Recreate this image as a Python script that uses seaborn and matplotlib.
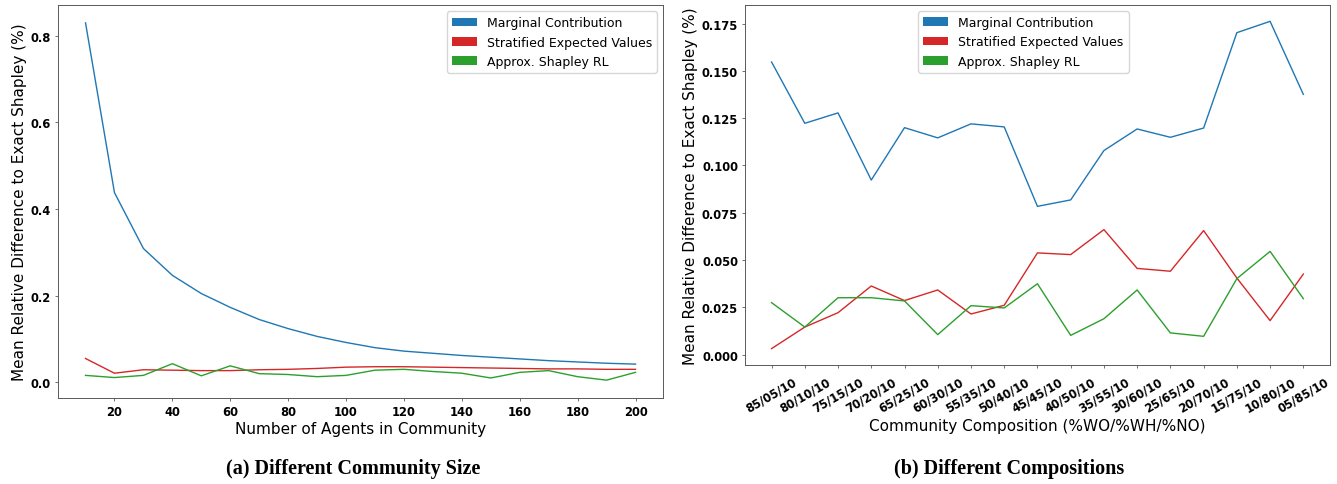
import matplotlib
matplotlib.use('Agg')
import matplotlib.pyplot as plt
from matplotlib.patches import Patch
import seaborn as sns
import pandas as pd

# --- Data: (a) different community size ---
agents = [10, 20, 30, 40, 50, 60, 70, 80, 90, 100,
          110, 120, 130, 140, 150, 160, 170, 180, 190, 200]
size_marginal = [0.830, 0.438, 0.309, 0.247, 0.205, 0.173, 0.145, 0.124, 0.106, 0.092,
                 0.080, 0.072, 0.067, 0.062, 0.058, 0.054, 0.050, 0.047, 0.044, 0.042]
size_stratified = [0.055, 0.021, 0.029, 0.028, 0.027, 0.027, 0.029, 0.030, 0.032, 0.035,
                   0.036, 0.036, 0.035, 0.034, 0.033, 0.032, 0.031, 0.031, 0.030, 0.030]
size_approx = [0.016, 0.011, 0.016, 0.043, 0.015, 0.038, 0.020, 0.018, 0.013, 0.016,
               0.028, 0.030, 0.025, 0.021, 0.010, 0.023, 0.027, 0.013, 0.005, 0.023]

# --- Data: (b) different compositions ---
compositions = ['85/05/10', '80/10/10', '75/15/10', '70/20/10', '65/25/10', '60/30/10',
                '55/35/10', '50/40/10', '45/45/10', '40/50/10', '35/55/10', '30/60/10',
                '25/65/10', '20/70/10', '15/75/10', '10/80/10', '05/85/10']
comp_marginal = [0.1547, 0.1223, 0.1278, 0.0923, 0.1200, 0.1146, 0.1220, 0.1204, 0.0784,
                 0.0818, 0.1079, 0.1193, 0.1149, 0.1198, 0.1702, 0.1762, 0.1376]
comp_stratified = [0.0032, 0.0146, 0.0222, 0.0363, 0.0286, 0.0342, 0.0215, 0.0261, 0.0538,
                   0.0529, 0.0661, 0.0456, 0.0441, 0.0656, 0.0405, 0.0180, 0.0426]
comp_approx = [0.0275, 0.0146, 0.0301, 0.0301, 0.0284, 0.0106, 0.0259, 0.0247, 0.0375,
               0.0102, 0.0190, 0.0342, 0.0115, 0.0097, 0.0402, 0.0546, 0.0296]

methods = ['Marginal Contribution', 'Stratified Expected Values', 'Approx. Shapley RL']
colors = ['tab:blue', 'tab:red', 'tab:green']
YLABEL = 'Mean Relative Difference to Exact Shapley (%)'

df_size = pd.DataFrame({'agents': agents, methods[0]: size_marginal,
                        methods[1]: size_stratified, methods[2]: size_approx})
df_size = df_size.melt(id_vars='agents', var_name='method', value_name='diff')

df_comp = pd.DataFrame({'pos': range(len(compositions)), methods[0]: comp_marginal,
                        methods[1]: comp_stratified, methods[2]: comp_approx})
df_comp = df_comp.melt(id_vars='pos', var_name='method', value_name='diff')

fig = plt.figure(figsize=(13.37, 4.85), dpi=100)
ax1 = fig.add_axes([0.0434, 0.1773, 0.4525, 0.8103])
ax2 = fig.add_axes([0.5572, 0.2454, 0.4375, 0.7423])

palette = dict(zip(methods, colors))
handles = [Patch(facecolor=c, label=m) for m, c in zip(methods, colors)]

# --- (a) ---
sns.lineplot(data=df_size, x='agents', y='diff', hue='method', palette=palette,
             ax=ax1, linewidth=1, legend=False)
ax1.set_xticks(range(20, 201, 20))
ax1.set_yticks([0.0, 0.2, 0.4, 0.6, 0.8])
ax1.set_xlabel('Number of Agents in Community', fontsize=11, labelpad=2)
ax1.set_ylabel(YLABEL, fontsize=11, labelpad=3)
ax1.legend(handles=handles, loc='upper right', fontsize=9)

# --- (b) ---
sns.lineplot(data=df_comp, x='pos', y='diff', hue='method', palette=palette,
             ax=ax2, linewidth=1, legend=False)
ax2.set_xticks(range(len(compositions)))
ax2.set_xticklabels(compositions, rotation=30)
ax2.set_yticks([0.0, 0.025, 0.05, 0.075, 0.1, 0.125, 0.15, 0.175])
ax2.set_xlabel('Community Composition (%WO/%WH/%NO)', fontsize=11, labelpad=3)
ax2.set_ylabel(YLABEL, fontsize=11, labelpad=3)
ax2.legend(handles=handles, loc='upper center', bbox_to_anchor=(0.476, 1.0), fontsize=9)

for ax in (ax1, ax2):
    ax.tick_params(length=2.5, width=0.6, pad=2.5, color='0.35')
    for lbl in ax.get_xticklabels() + ax.get_yticklabels():
        lbl.set_fontweight('bold')
        lbl.set_fontsize(8.3)
    for sp in ax.spines.values():
        sp.set_edgecolor('0.35')
        sp.set_linewidth(0.7)
ax2.tick_params(axis='x', pad=4.5)

ax2.yaxis.set_major_formatter(matplotlib.ticker.FormatStrFormatter('%.3f'))

fig.text(0.264, 0.033, '(a) Different Community Size', ha='center', va='center',
         fontsize=14.5, fontweight='bold', family='Liberation Serif')
fig.text(0.755, 0.033, '(b) Different Compositions', ha='center', va='center',
         fontsize=14.5, fontweight='bold', family='Liberation Serif')

fig.savefig('out.png', dpi=100)
